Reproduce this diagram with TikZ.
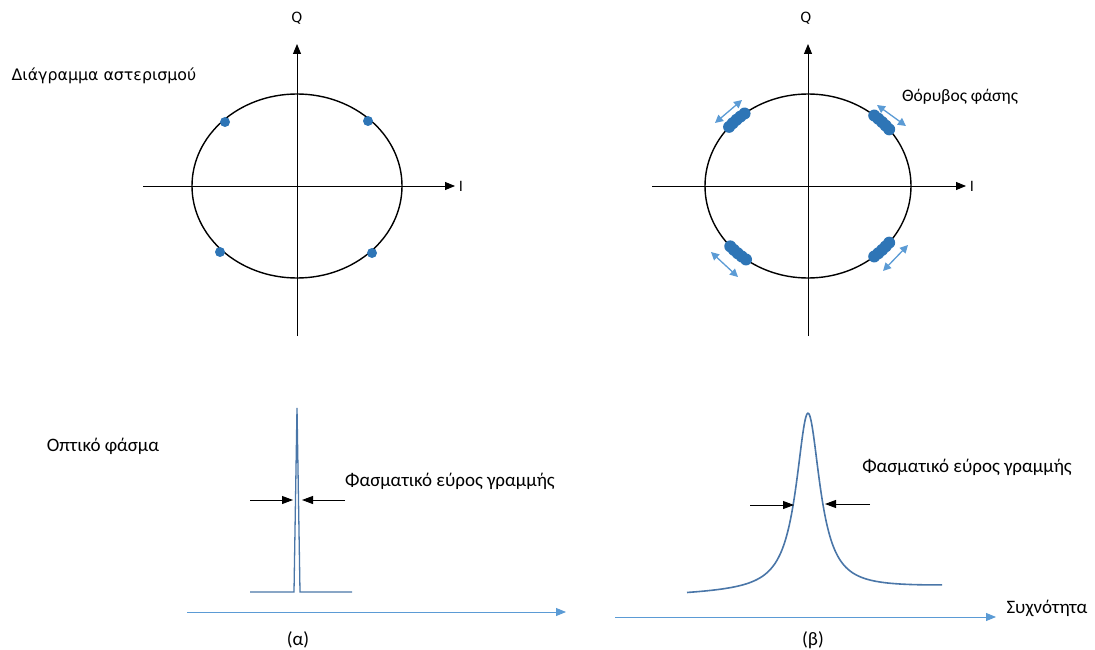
\documentclass[tikz,border=0pt]{standalone}
\usepackage{fontspec}
\setmainfont{Carlito}
\newfontfamily\dejavu{DejaVu Sans}
\definecolor{dotblue}{HTML}{2E75B6}
\definecolor{noiseblue}{HTML}{5B9BD5}
\definecolor{specblue}{HTML}{4A76A8}
\usetikzlibrary{arrows.meta, positioning}

\begin{document}
\begin{tikzpicture}[x=1pt, y=-1pt,
  axis/.style={-{Triangle[length=10pt, width=8pt]}, line width=0.9pt},
  freq/.style={-{Triangle[length=10pt, width=8pt]}, draw=noiseblue, line width=0.9pt},
  width/.style={-{Triangle[length=11pt, width=8pt]}, line width=0.9pt},
  noise/.style={{Triangle[length=8pt, width=8pt]}-{Triangle[length=8pt, width=8pt]},
                draw=noiseblue, fill=noiseblue, line width=1.3pt},
  sym/.style={circle, fill=dotblue, inner sep=0pt, minimum size=10pt},
  clus/.style={circle, fill=dotblue, inner sep=0pt, minimum size=12pt},
  lbl/.style={font=\fontsize{19}{22}\selectfont, inner sep=0pt},
  axlbl/.style={font=\dejavu\fontsize{14}{16}\selectfont, inner sep=0pt},
]
  \useasboundingbox (0,0) rectangle (1095,650);

  % Constellation (a)
  \coordinate (a-w) at (143,186);
  \coordinate (a-e) at (455,186);
  \coordinate (a-s) at (297,336);
  \coordinate (a-n) at (297,44);
  \draw[axis] (a-w) -- (a-e);
  \draw[axis] (a-s) -- (a-n);
  \node[axlbl] (a-q) at (297,18) {Q};
  \node[axlbl] (a-i) at (461,186) {I};
  \draw[line width=1.4pt] (297,186) ellipse [x radius=105, y radius=92];
  \node[sym] (a-1) at (225,122) {};
  \node[sym] (a-2) at (368,121) {};
  \node[sym] (a-3) at (220,252) {};
  \node[sym] (a-4) at (372,253) {};
  \node[font=\dejavu\fontsize{15.8}{18}\selectfont, inner sep=0pt] (title) at (104,76)
    {Διάγραμμα αστερισμού};

  % Constellation (b)
  \coordinate (b-w) at (652,186);
  \coordinate (b-e) at (966,186);
  \coordinate (b-s) at (808,336);
  \coordinate (b-n) at (808,44);
  \draw[axis] (b-w) -- (b-e);
  \draw[axis] (b-s) -- (b-n);
  \node[axlbl] (b-q) at (806,18) {Q};
  \node[axlbl] (b-i) at (972,186) {I};
  \draw[line width=1.4pt] (808,186) ellipse [x radius=103, y radius=92];
  \foreach \t in {128,131,134,137,140, 38,41,44,47,50, 221,224,227,230,233, 310,313,316,319,322}
    \node[clus] (b-\t) at ({808+103*cos(\t)}, {186-92*sin(\t)}) {};
  \coordinate (n1a) at (715,123); \coordinate (n1b) at (742,100);
  \coordinate (n2a) at (877,105); \coordinate (n2b) at (906,126);
  \coordinate (n3a) at (711,252); \coordinate (n3b) at (738,277);
  \coordinate (n4a) at (883,271); \coordinate (n4b) at (908,245);
  \draw[noise] (n1a) -- (n1b);
  \draw[noise] (n2a) -- (n2b);
  \draw[noise] (n3a) -- (n3b);
  \draw[noise] (n4a) -- (n4b);
  \node[lbl, font=\fontsize{17.5}{20}\selectfont] (phase) at (960,97) {Θόρυβος φάσης};

  % Spectrum (a)
  \node[lbl] (spec) at (103,446) {Οπτικό φάσμα};
  \draw[specblue, line width=1.3pt] (250,592) -- (294,592) -- (297,408) -- (300,592) -- (352,592);
  \coordinate (wa-l) at (250,500);
  \coordinate (wa-r) at (345,500);
  \coordinate (wa-lt) at (293,500);
  \coordinate (wa-rt) at (302,500);
  \draw[width] (wa-l) -- (wa-lt);
  \draw[width] (wa-r) -- (wa-rt);
  \node[lbl] (lw-a) at (450,481) {Φασματικό εύρος γραμμής};
  \coordinate (fa-w) at (187,612);
  \coordinate (fa-e) at (566,612);
  \draw[freq] (fa-w) -- (fa-e);
  \node[lbl] (cap-a) at (298,640) {(α)};

  % Spectrum (b)
  \draw[specblue, line width=1.6pt] plot[domain=687:942, samples=400, smooth]
    (\x, {595 - 8*(\x-687)/255 - 178/(1+((\x-808)/14.5)^2)});
  \coordinate (wb-l) at (750,505);
  \coordinate (wb-r) at (870,504);
  \coordinate (wb-lt) at (794,505);
  \coordinate (wb-rt) at (825,504);
  \draw[width] (wb-l) -- (wb-lt);
  \draw[width] (wb-r) -- (wb-rt);
  \node[lbl] (lw-b) at (967,467) {Φασματικό εύρος γραμμής};
  \coordinate (fb-w) at (615,617);
  \coordinate (fb-e) at (996,617);
  \draw[freq] (fb-w) -- (fb-e);
  \node[lbl] (freqlbl) at (1047,608) {Συχνότητα};
  \node[lbl] (cap-b) at (813,640) {(β)};
\end{tikzpicture}
\end{document}
